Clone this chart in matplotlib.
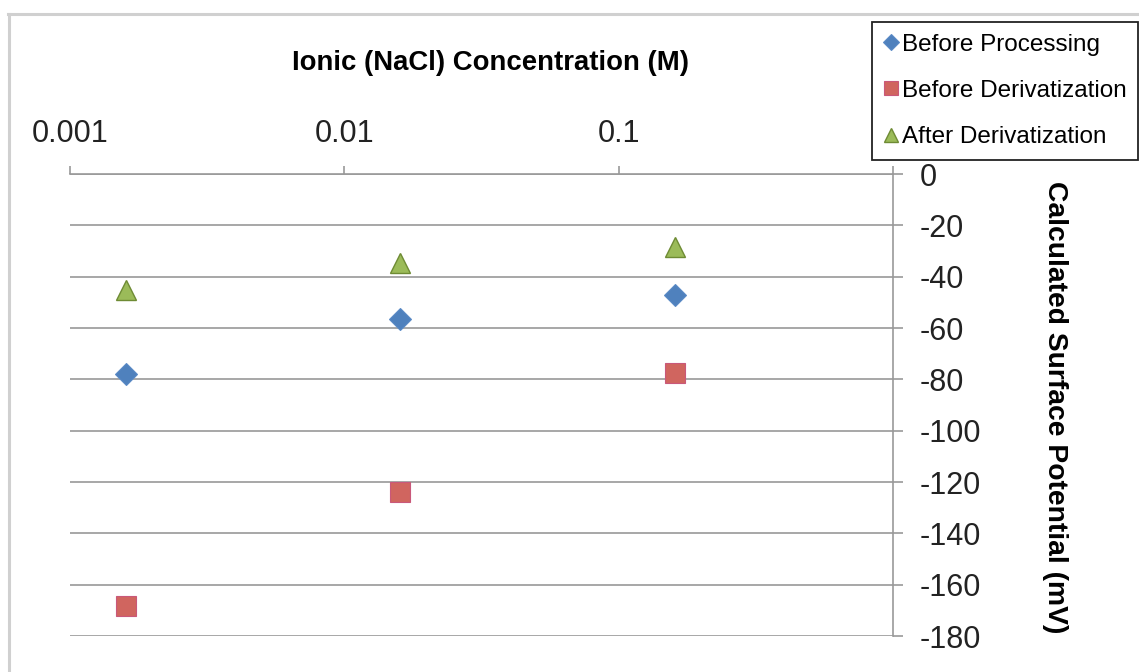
import matplotlib
matplotlib.use('Agg')
import matplotlib.pyplot as plt
from matplotlib.lines import Line2D

plt.rcParams['font.family'] = ['Liberation Sans', 'DejaVu Sans']

concentration = [0.0016, 0.016, 0.16]
before_processing = [-78, -56.6, -47.3]
before_derivatization = [-168.5, -123.8, -77.7]
after_derivatization = [-45, -34.8, -28.4]

x_ticks = [0.001, 0.01, 0.1, 1]
x_tick_labels = ['0.001', '0.01', '0.1', '1']
y_ticks = list(range(0, -181, -20))

W, H = 1139, 672
fig = plt.figure(figsize=(W / 100, H / 100), dpi=100)
ax = fig.add_axes([70 / W, 1 - 636 / H, (893 - 70) / W, (636 - 174) / H])

ax.plot(concentration, before_processing, linestyle='none', marker='D',
        ms=11, mfc='#4F81BD', mec='#5A8AC6', mew=0.8, label='Before Processing',
        zorder=3)
ax.plot(concentration, before_derivatization, linestyle='none', marker='s',
        ms=14, mfc='#D0655F', mec='#C9587A', mew=0.8,
        label='Before Derivatization', zorder=3)
ax.plot(concentration, after_derivatization, linestyle='none', marker='^',
        ms=15, mfc='#9BBB59', mec='#6E8B34', mew=1.0,
        label='After Derivatization', zorder=3)

ax.set_xscale('log')
ax.set_xlim(0.001, 1)
ax.set_ylim(-180, 0)
ax.xaxis.set_minor_locator(matplotlib.ticker.NullLocator())
ax.set_xticks(x_ticks)
ax.set_xticklabels(x_tick_labels)
ax.set_yticks(y_ticks)
ax.set_yticklabels([str(v) for v in y_ticks])

ax.xaxis.tick_top()
ax.yaxis.tick_right()
ax.tick_params(axis='x', direction='out', length=6, width=1.2, color='#999999',
               pad=12, labelsize=22, labelcolor='#222222')
ax.tick_params(axis='y', direction='out', length=7, width=1.2, color='#999999',
               pad=12, labelsize=22, labelcolor='#222222')

for side in ['left', 'bottom']:
    ax.spines[side].set_visible(False)
for side in ['top', 'right']:
    ax.spines[side].set_color('#999999')
    ax.spines[side].set_linewidth(1.2)

ax.grid(axis='y', color='#a0a0a0', linewidth=1.3)
ax.set_axisbelow(True)

ax.set_title('Ionic (NaCl) Concentration (M)', fontsize=19.8, fontweight='bold',
             pad=0, x=(491 - 70) / 823, y=1 + (174 - 63) / 462, va='center')
ax.yaxis.set_label_position('right')
ax.set_ylabel('Calculated Surface Potential (mV)', fontsize=20.3,
              fontweight='bold', rotation=-90, labelpad=0)
ax.yaxis.set_label_coords(1 + (1068 - 893) / 823, 0.495)

leg = ax.legend(loc='upper right', bbox_to_anchor=(1138 / W, 1 - 22 / H),
                bbox_transform=fig.transFigure, borderaxespad=0,
                fontsize=17.5, labelspacing=1.0, handlelength=0.6,
                handletextpad=0.15, borderpad=0.48, markerscale=0.7,
                fancybox=False, framealpha=1, edgecolor='#222222')
leg.get_frame().set_linewidth(1.3)

# chart area border (Excel style)
fig.add_artist(Line2D([8 / W, 1], [1 - 14 / H, 1 - 14 / H],
                      color='#d0d0d0', linewidth=2.2))
fig.add_artist(Line2D([8.5 / W, 8.5 / W], [0, 1 - 14 / H],
                      color='#d0d0d0', linewidth=2.2))

fig.savefig('out.png', dpi=100)
